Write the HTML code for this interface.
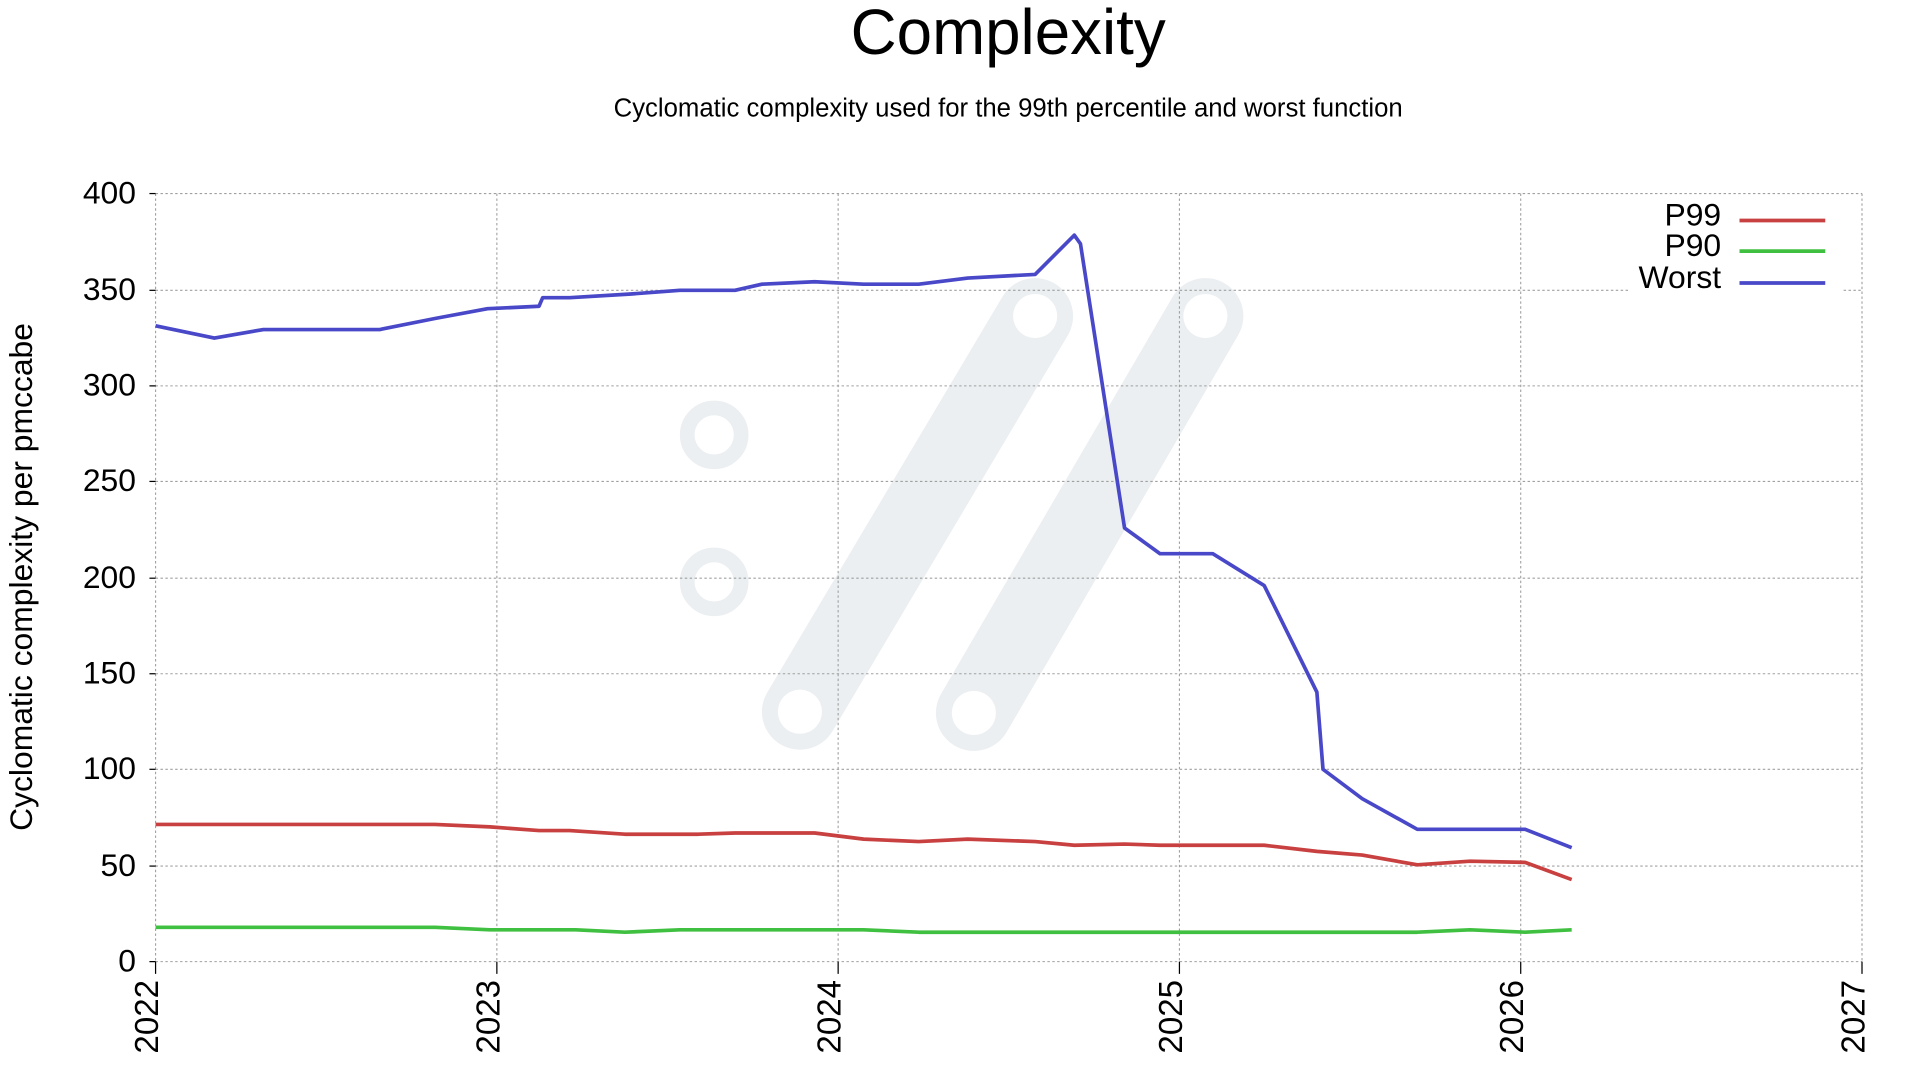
<!DOCTYPE html>
<html><head><meta charset="utf-8"><style>
html,body{margin:0;padding:0;background:#fff;width:1920px;height:1080px;overflow:hidden}
svg{display:block}
text{font-family:"Liberation Sans",Arial,sans-serif;fill:#000}
</style></head><body>
<svg width="1920" height="1080" viewBox="0 0 1920 1080">
<g transform="scale(1.225)">
<g stroke="#ebeff1" fill="none">
<line x1="653" y1="581" x2="845" y2="258" stroke-width="62" stroke-linecap="round"/>
<line x1="795" y1="582" x2="984" y2="258" stroke-width="62" stroke-linecap="round"/>
<circle cx="583" cy="355" r="22" stroke-width="12"/>
<circle cx="583" cy="475" r="22" stroke-width="12"/>
</g>
<g fill="#fff">
<circle cx="653" cy="581" r="18"/><circle cx="845" cy="258" r="18"/>
<circle cx="795" cy="582" r="18"/><circle cx="984" cy="258" r="18"/>
</g>
<g stroke="#a0a0a0" stroke-width="0.9" stroke-dasharray="2,2" fill="none">
<line x1="127" y1="158" x2="1520" y2="158"/>
<line x1="127" y1="237" x2="1330" y2="237"/><line x1="1505" y1="237" x2="1520" y2="237"/>
<line x1="127" y1="315" x2="1520" y2="315"/>
<line x1="127" y1="393" x2="1520" y2="393"/>
<line x1="127" y1="472" x2="1520" y2="472"/>
<line x1="127" y1="550" x2="1520" y2="550"/>
<line x1="127" y1="628" x2="1520" y2="628"/>
<line x1="127" y1="707" x2="1520" y2="707"/>
<line x1="127" y1="785" x2="1520" y2="785"/>
<line x1="127" y1="158" x2="127" y2="785"/>
<line x1="405.6" y1="158" x2="405.6" y2="785"/>
<line x1="684.2" y1="158" x2="684.2" y2="785"/>
<line x1="962.8" y1="158" x2="962.8" y2="785"/>
<line x1="1241.4" y1="158" x2="1241.4" y2="785"/>
<line x1="1520" y1="158" x2="1520" y2="785"/>
</g>
<g stroke="#000" stroke-width="1">
<line x1="122" y1="158" x2="127" y2="158"/><line x1="122" y1="237" x2="127" y2="237"/>
<line x1="122" y1="315" x2="127" y2="315"/><line x1="122" y1="393" x2="127" y2="393"/>
<line x1="122" y1="472" x2="127" y2="472"/><line x1="122" y1="550" x2="127" y2="550"/>
<line x1="122" y1="628" x2="127" y2="628"/><line x1="122" y1="707" x2="127" y2="707"/>
<line x1="122" y1="785" x2="127" y2="785"/>
<line x1="127" y1="785" x2="127" y2="795"/><line x1="405.6" y1="785" x2="405.6" y2="795"/>
<line x1="684.2" y1="785" x2="684.2" y2="795"/><line x1="962.8" y1="785" x2="962.8" y2="795"/>
<line x1="1241.4" y1="785" x2="1241.4" y2="795"/><line x1="1520" y1="785" x2="1520" y2="795"/>
</g>
<g font-size="26" text-anchor="end">
<text x="111" y="166">400</text><text x="111" y="245">350</text><text x="111" y="323">300</text>
<text x="111" y="401">250</text><text x="111" y="480">200</text><text x="111" y="558">150</text>
<text x="111" y="636">100</text><text x="111" y="715">50</text><text x="111" y="793">0</text>
</g>
<g font-size="27" text-anchor="end">
<text transform="translate(129,800) rotate(-90)">2022</text>
<text transform="translate(407.6,800) rotate(-90)">2023</text>
<text transform="translate(686.2,800) rotate(-90)">2024</text>
<text transform="translate(964.8,800) rotate(-90)">2025</text>
<text transform="translate(1243.4,800) rotate(-90)">2026</text>
<text transform="translate(1522,800) rotate(-90)">2027</text>
</g>
<text x="823" y="44" font-size="52" text-anchor="middle">Complexity</text>
<text x="823" y="95" font-size="21" text-anchor="middle">Cyclomatic complexity used for the 99th percentile and worst function</text>
<text transform="translate(26,471) rotate(-90)" font-size="26" text-anchor="middle">Cyclomatic complexity per pmccabe</text>
<g fill="none" stroke-width="3" stroke-linejoin="round">
<polyline stroke="#4848c8" points="127,266 175,276 215,269 310,269 355,260 398,252 440,250 443,243 465,243 515,240 555,237 600,237 622,232 665,230 705,232 750,232 790,227 845,224 877,192 882,199 918,431 947,452 990,452 1032,478 1075,565 1080,628 1112,652 1157,677 1245,677 1283,692"/>
<polyline stroke="#c84040" points="127,673 355,673 400,675 440,678 465,678 510,681 570,681 600,680 665,680 705,685 750,687 790,685 845,687 877,690 918,689 947,690 1032,690 1075,695 1112,698 1157,706 1200,703 1245,704 1283,718"/>
<polyline stroke="#40c040" points="127,757 355,757 400,759 470,759 510,761 555,759 705,759 750,761 1157,761 1200,759 1245,761 1283,759"/>
</g>
<g font-size="26" text-anchor="end">
<text x="1405" y="184">P99</text><text x="1405" y="209">P90</text><text x="1405" y="235">Worst</text>
</g>
<g stroke-width="3">
<line x1="1420" y1="180" x2="1490" y2="180" stroke="#c84040"/>
<line x1="1420" y1="205" x2="1490" y2="205" stroke="#40c040"/>
<line x1="1420" y1="231" x2="1490" y2="231" stroke="#4848c8"/>
</g>
</g>
</svg>
</body></html>
